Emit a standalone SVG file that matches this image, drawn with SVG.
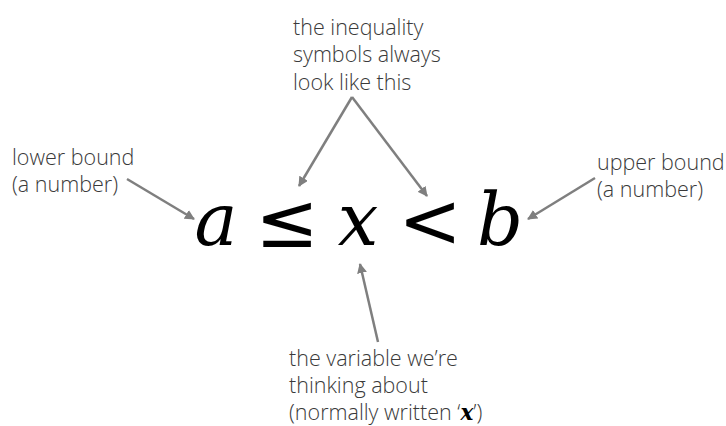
<svg xmlns="http://www.w3.org/2000/svg" width="726" height="426" viewBox="0 0 726 426">
<style>
.lbl{font-family:"Open Sans","Noto Sans",sans-serif;font-weight:300;font-size:21.5px;fill:#3a3a3a}
.math{font-family:"DejaVu Serif","Liberation Serif",serif;font-style:italic;font-size:72px;fill:#000}
.sym{font-family:"DejaVu Sans","Liberation Sans",sans-serif;font-size:76px;fill:#000}
.arr{stroke:#7f7f7f;stroke-width:2.5;fill:none;marker-end:url(#ah)}
</style>
<defs>
<marker id="ah" viewBox="0 0 10 10" refX="9" refY="5" markerWidth="4" markerHeight="4" orient="auto" markerUnits="strokeWidth">
<path d="M0,0 L10,5 L0,10 z" fill="#7f7f7f"/>
</marker>
</defs>
<rect width="726" height="426" fill="#fff"/>
<g id="expression">
<text class="math" x="216" y="245" text-anchor="middle">a</text>
<text class="sym" x="287" y="247" text-anchor="middle">≤</text>
<text class="math" x="358" y="245" text-anchor="middle">x</text>
<text class="sym" x="430" y="247" text-anchor="middle">&lt;</text>
<text class="math" x="500" y="245" text-anchor="middle">b</text>
</g>
<g id="top-label">
<text class="lbl" x="293" y="35">the inequality</text>
<text class="lbl" x="293" y="62">symbols always</text>
<text class="lbl" x="293" y="90">look like this</text>
</g>
<g id="lower-label">
<text class="lbl" x="12" y="165">lower bound</text>
<text class="lbl" x="12" y="192">(a number)</text>
</g>
<g id="upper-label">
<text class="lbl" x="597" y="170">upper bound</text>
<text class="lbl" x="597" y="197">(a number)</text>
</g>
<g id="bottom-label">
<text class="lbl" x="289" y="366">the variable we’re</text>
<text class="lbl" x="289" y="393">thinking about</text>
<text class="lbl" x="289" y="420">(normally written ‘<tspan style="font-family:'DejaVu Serif','Liberation Serif',serif;font-style:italic;font-weight:bold;fill:#000">x</tspan>’)</text>
</g>
<g id="connectors">
<line class="arr" x1="127" y1="179" x2="194" y2="219"/>
<line class="arr" x1="352" y1="97" x2="299" y2="186"/>
<line class="arr" x1="352" y1="97" x2="427" y2="196"/>
<line class="arr" x1="595" y1="178" x2="528" y2="219"/>
<line class="arr" x1="378" y1="342" x2="360" y2="264"/>
</g>
</svg>
